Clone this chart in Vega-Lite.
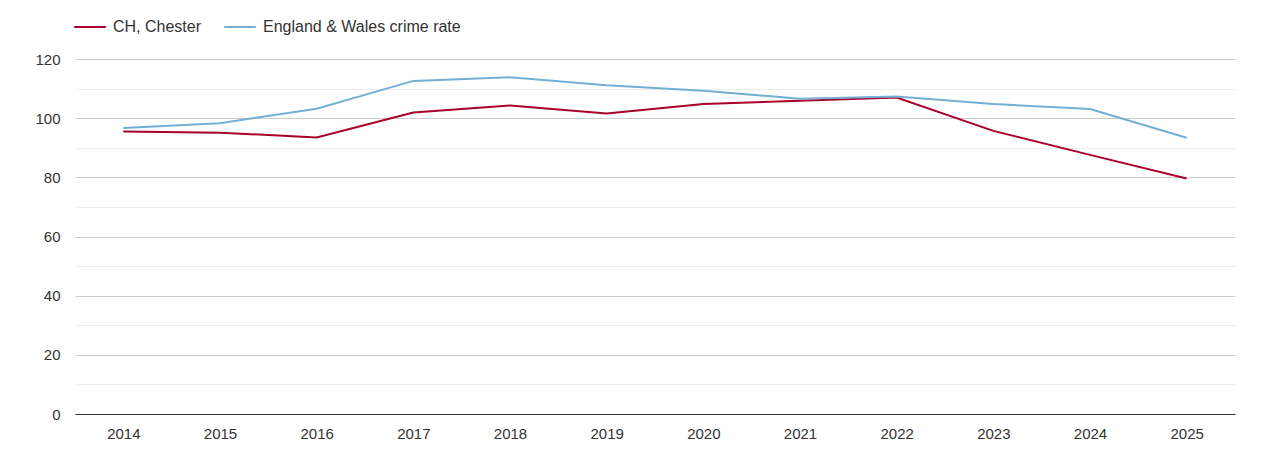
{
  "$schema": "https://vega.github.io/schema/vega-lite/v6.json",
  "width": 1160,
  "height": 355,
  "autosize": {"type": "none"},
  "padding": {"left": 75, "top": 59, "right": 35, "bottom": 36},
  "background": "white",
  "config": {
    "view": {"stroke": null},
    "font": "Liberation Sans",
    "axis": {"labelFont": "Liberation Sans", "labelFontSize": 15, "labelColor": "#333"},
    "legend": {"labelFont": "Liberation Sans", "labelFontSize": 16, "labelColor": "#333", "labelLimit": 400}
  },
  "data": {
    "values": [
      {"year": "2014", "series": "CH, Chester", "rate": 95.5},
      {"year": "2015", "series": "CH, Chester", "rate": 95.1},
      {"year": "2016", "series": "CH, Chester", "rate": 93.5},
      {"year": "2017", "series": "CH, Chester", "rate": 101.9},
      {"year": "2018", "series": "CH, Chester", "rate": 104.3},
      {"year": "2019", "series": "CH, Chester", "rate": 101.6},
      {"year": "2020", "series": "CH, Chester", "rate": 104.8},
      {"year": "2021", "series": "CH, Chester", "rate": 105.9},
      {"year": "2022", "series": "CH, Chester", "rate": 107.0},
      {"year": "2023", "series": "CH, Chester", "rate": 95.7},
      {"year": "2024", "series": "CH, Chester", "rate": 87.6},
      {"year": "2025", "series": "CH, Chester", "rate": 79.6},
      {"year": "2014", "series": "England & Wales crime rate", "rate": 96.7},
      {"year": "2015", "series": "England & Wales crime rate", "rate": 98.3},
      {"year": "2016", "series": "England & Wales crime rate", "rate": 103.2},
      {"year": "2017", "series": "England & Wales crime rate", "rate": 112.6},
      {"year": "2018", "series": "England & Wales crime rate", "rate": 113.8},
      {"year": "2019", "series": "England & Wales crime rate", "rate": 111.1},
      {"year": "2020", "series": "England & Wales crime rate", "rate": 109.3},
      {"year": "2021", "series": "England & Wales crime rate", "rate": 106.6},
      {"year": "2022", "series": "England & Wales crime rate", "rate": 107.3},
      {"year": "2023", "series": "England & Wales crime rate", "rate": 104.8},
      {"year": "2024", "series": "England & Wales crime rate", "rate": 103.1},
      {"year": "2025", "series": "England & Wales crime rate", "rate": 93.4}
    ]
  },
  "mark": {"type": "line", "strokeWidth": 2},
  "encoding": {
    "x": {
      "field": "year",
      "type": "ordinal",
      "title": null,
      "scale": {"type": "point", "padding": 0.5},
      "axis": {"labelAngle": 0, "ticks": false, "labelPadding": 12, "domainColor": "#333", "grid": false}
    },
    "y": {
      "field": "rate",
      "type": "quantitative",
      "title": null,
      "scale": {"domain": [0, 120], "nice": false},
      "axis": {
        "values": [0, 10, 20, 30, 40, 50, 60, 70, 80, 90, 100, 110, 120],
        "labelExpr": "datum.value % 20 === 0 ? datum.label : ''",
        "domain": false,
        "ticks": false,
        "labelPadding": 15,
        "gridColor": {"condition": {"test": "datum.value % 20 === 0", "value": "#cccccc"}, "value": "#ececec"}
      }
    },
    "color": {
      "field": "series",
      "type": "nominal",
      "title": null,
      "scale": {"domain": ["CH, Chester", "England & Wales crime rate"], "range": ["#a8002a", "#74afd3"]},
      "legend": {
        "orient": "none",
        "legendX": -2,
        "legendY": -49,
        "direction": "horizontal",
        "symbolType": "stroke",
        "symbolSize": 1000,
        "symbolStrokeWidth": 2,
        "labelOffset": 6,
        "columnPadding": 18
      }
    }
  }
}
